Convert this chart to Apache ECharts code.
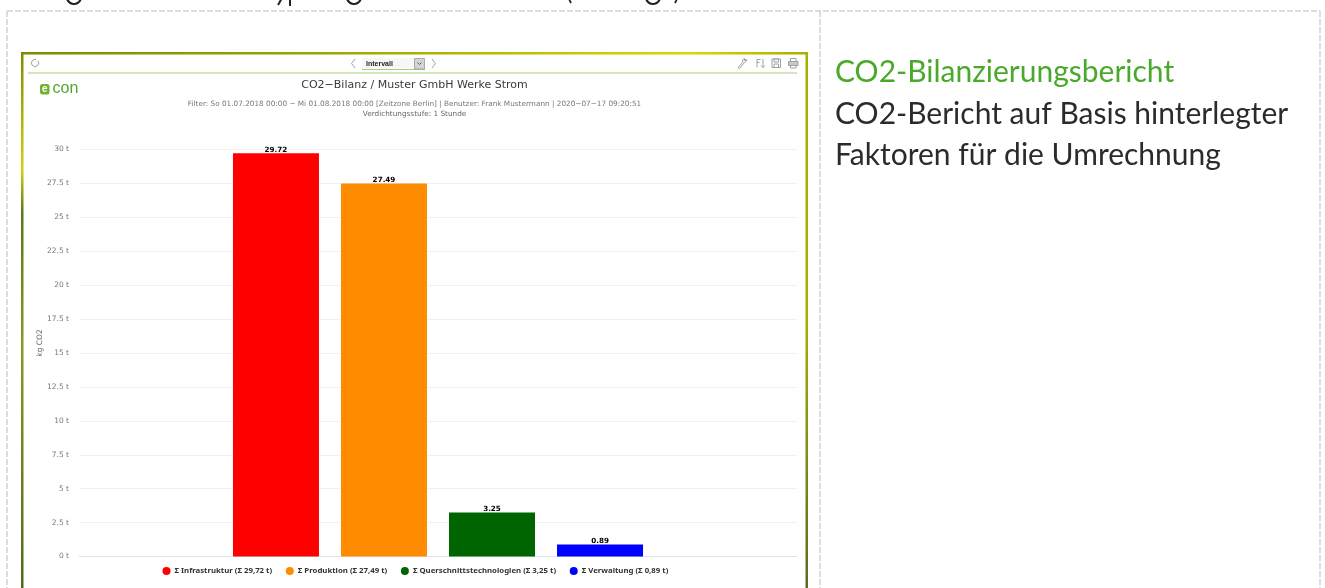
<!DOCTYPE html>
<html><head><meta charset="utf-8">
<style>html,body{margin:0;padding:0;background:#fff;overflow:hidden}#c{width:1325px;height:588px}</style>
<script src="https://cdn.jsdelivr.net/npm/echarts@6/dist/echarts.min.js"></script></head>
<body><div id="c"></div>
<script>
const categories = ['Juli 2018'];
const seriesNames = ['Σ Infrastruktur (Σ 29,72 t)','Σ Produktion (Σ 27,49 t)','Σ Querschnittstechnologien (Σ 3,25 t)','Σ Verwaltung (Σ 0,89 t)'];
const seriesValues = [29.72, 27.49, 3.25, 0.89];
const seriesColors = ['#ff0000','#ff8c00','#006400','#0000ff'];
const chartTitle = 'CO2−Bilanz / Muster GmbH Werke Strom';
const filterLine = 'Filter: So 01.07.2018 00:00 − Mi 01.08.2018 00:00 [Zeitzone Berlin] | Benutzer: Frank Mustermann | 2020−07−17 09:20:51';
const levelLine = 'Verdichtungsstufe: 1 Stunde';
const sideHeading = 'CO2-Bilanzierungsbericht';
const sideBody = ['CO2-Bericht auf Basis hinterlegter','Faktoren für die Umrechnung'];

const dash = {stroke:'#d2d2d2',lineWidth:1.5,lineDash:[6,2]};
const grad = (x2,y2,stops)=>({type:'linear',x:0,y:0,x2,y2,colorStops:stops.map(([offset,color])=>({offset,color}))});
const iconStroke = {stroke:'#a0a0a0',lineWidth:1,fill:'none'};
const line = (x1,y1,x2,y2,style)=>({type:'line',shape:{x1,y1,x2,y2},style});
const rect = (x,y,width,height,style,r)=>({type:'rect',shape:{x,y,width,height,r:r||0},style});
const poly = (points,style)=>({type:'polyline',shape:{points},style});
const text = (x,y,t,font,fill,align,extra)=>Object.assign({type:'text',x,y,style:{text:t,font,fill,align:align||'left',verticalAlign:'middle'}},extra||{});
const arc = (cx,cy,r,s,e)=>({type:'arc',shape:{cx,cy,r,startAngle:s,endAngle:e,clockwise:true},style:{stroke:'#222',lineWidth:2.2,fill:'none'}});

const graphics = [
  // clipped descenders of the heading above the frame
  arc(74,-3,7,0.25,2.9), arc(354,-3,7,0.25,2.9), arc(653,-3,7,0.25,2.9),
  line(278,5,282,-2,{stroke:'#222',lineWidth:2}), line(290,6,290,-2,{stroke:'#222',lineWidth:2}),
  line(569,-1,571,3,{stroke:'#222',lineWidth:1.8}),
  line(675,3,677,-1,{stroke:'#222',lineWidth:1.8}),
  // dashed layout frame
  line(7,11,1320,11,dash), line(7,11,7,588,dash), line(820,11,820,588,dash), line(1320,11,1320,588,dash),
  // chart panel border
  rect(21,52,787,2.5,{fill:grad(1,0,[[0,'#7d8c00'],[0.4,'#9aa800'],[0.85,'#d8d800'],[1,'#a5b000']])}),
  rect(21,52,2.5,536,{fill:grad(0,1,[[0,'#7d8c00'],[0.22,'#d0d010'],[0.3,'#557a18'],[0.55,'#8a9a20'],[1,'#4d6a1c'] ])}),
  rect(805.5,52,2.5,536,{fill:grad(0,1,[[0,'#a5b000'],[0.5,'#a5b000'],[1,'#5d6b22']])}),
  // toolbar
  line(28,73,797,73,{stroke:'#a8cf78',lineWidth:1}),
  {type:'arc',shape:{cx:35,cy:63,r:3.6,startAngle:-0.6,endAngle:5,clockwise:true},style:iconStroke},
  poly([[355,59],[351.5,63.5],[355,68]],iconStroke),
  poly([[432,59],[435.5,63.5],[432,68]],iconStroke),
  rect(362,58,53,10.5,{fill:'#f7f7f7'}),
  line(362,69.5,425,69.5,{stroke:'#a8cf78',lineWidth:1.2}),
  rect(414.5,58.5,10,10.5,{fill:'#d4d4d4',stroke:'#9a9a9a',lineWidth:0.8}),
  poly([[417.5,62.5],[419.5,64.5],[421.5,62.5]],{stroke:'#666',lineWidth:1,fill:'none'}),
  text(366,64,'Intervall','bold 7px "Liberation Sans"','#222'),
  // tool icons
  poly([[738,67.5],[743,62],[742.5,60],[744.5,58.5],[744.5,60.5],[746,60.5],[746,59],[746.5,61],[744.5,62.5],[739.5,68.5],[738,67.5]],iconStroke),
  poly([[757,59.5],[757,67.5]],iconStroke), poly([[757,59.5],[760.5,59.5]],iconStroke), poly([[757,62.5],[759.5,62.5]],iconStroke),
  poly([[763,59],[763,67.5]],iconStroke), poly([[761,65.5],[763,67.5],[765,65.5]],iconStroke),
  rect(772,59,8.5,8.5,iconStroke), rect(774,59,4.5,3,iconStroke), rect(774,64,4.5,3.5,iconStroke),
  rect(788.5,61.5,9.5,4,{stroke:'#a0a0a0',lineWidth:1,fill:'#c8c8c8'}), rect(790.5,58.5,5.5,3,iconStroke), rect(790.5,65.5,5.5,2.5,iconStroke),
  // logo
  rect(40,84,9.5,10.5,{fill:'#6fb32e'},2.5),
  text(44.8,89,'e','bold 10px "Liberation Sans"','#fff','center'),
  text(52.5,88.5,'con','16px "Liberation Sans"','#4fa82e'),
  // titles
  text(414.5,85.5,chartTitle,'11px "DejaVu Sans"','#3a3a3a','center'),
  text(414.5,104.5,filterLine,'7.3px "DejaVu Sans"','#777','center'),
  text(414.5,114,levelLine,'7.3px "DejaVu Sans"','#666','center'),
  text(40,343,'kg CO2','7.5px "DejaVu Sans"','#666','center',{rotation:Math.PI/2}),
  // right column
  text(835,72,sideHeading,'30px Lato','#4aa92a'),
  text(835,114,sideBody[0],'30px Lato','#2b2b2b'),
  text(835,155,sideBody[1],'30px Lato','#2b2b2b')
];

const chart = echarts.init(document.getElementById('c'),null,{renderer:'canvas'});
chart.setOption({
  animation:false,
  backgroundColor:'#fff',
  grid:{left:79,right:528,top:149.5,bottom:31.5},
  xAxis:{type:'category',data:categories,axisLabel:{show:false},axisTick:{show:false},axisLine:{lineStyle:{color:'#dbe3f2',width:1}}},
  yAxis:{type:'value',min:0,max:30,interval:2.5,
    axisLabel:{formatter:v=>v+' t',fontSize:7.5,fontFamily:'DejaVu Sans',color:'#777',margin:10},
    axisLine:{show:false},axisTick:{show:false},
    splitLine:{lineStyle:{color:'#f0f0f3',width:1}}},
  legend:{left:157.5,top:562,itemWidth:8,itemHeight:8,itemGap:13.7,icon:'circle',
    textStyle:{fontSize:7.8,fontWeight:'bold',fontFamily:'Noto Sans',color:'#333',padding:[0,0,0,-1]},
    data:seriesNames},
  series:seriesNames.map((name,i)=>({
    name,type:'bar',barWidth:86,barGap:'25.6%',
    itemStyle:{color:seriesColors[i]},
    label:{show:true,position:'top',distance:0,fontSize:7.2,fontWeight:'bold',fontFamily:'DejaVu Sans',color:'#000'},
    data:[seriesValues[i]]
  })),
  graphic:{elements:graphics.map(g=>Object.assign({silent:true},g))}
});
</script></body></html>
